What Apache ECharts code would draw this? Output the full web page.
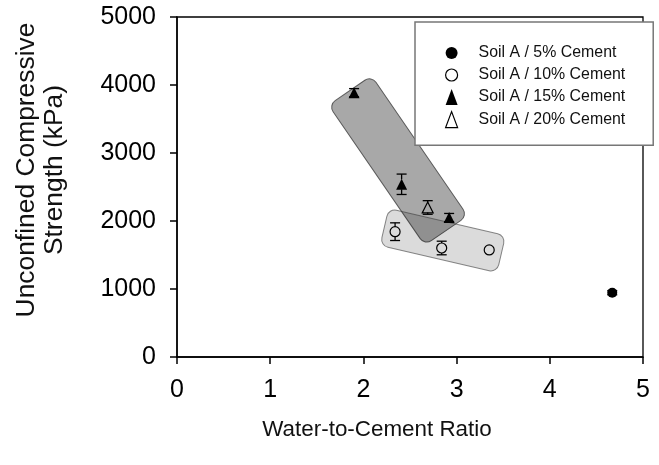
<!DOCTYPE html>
<html>
<head>
<meta charset="utf-8">
<script src="https://cdn.jsdelivr.net/npm/echarts@6/dist/echarts.min.js"></script>
<style>html,body{margin:0;padding:0;background:#fff}#c{width:659px;height:465px}</style>
</head>
<body>
<div id="c"></div>
<script>
// ---- data ----
const xTicks = [0, 1, 2, 3, 4, 5];
const yTicks = [0, 1000, 2000, 3000, 4000, 5000];
const seriesNames = ['Soil A / 5% Cement', 'Soil A / 10% Cement', 'Soil A / 15% Cement', 'Soil A / 20% Cement'];
// [w/c ratio, UCS kPa, error kPa]
const cement5 = [[4.67, 945, 30]];
const cement10 = [[2.34, 1843, 130], [2.84, 1603, 100], [3.35, 1574, 0]];
const cement15 = [[1.90, 3887, 60], [2.41, 2540, 150], [2.92, 2051, 60]];
const cement20 = [[2.69, 2199, 100]];
// shaded regions: three corners (c0, c1 adjacent, c3 adjacent) in data units
const darkRegion = [1.627, 3704, 2.087, 4137, 2.657, 1643];
const lightRegion = [2.271, 2184, 3.525, 1787, 2.179, 1640];

const FONT = 'Arial, "Liberation Sans", sans-serif';
const chart = echarts.init(document.getElementById('c'), null, {renderer: 'canvas'});

function regionItem(params, api) {
  const p0 = api.coord([api.value(0), api.value(1)]);
  const p1 = api.coord([api.value(2), api.value(3)]);
  const p3 = api.coord([api.value(4), api.value(5)]);
  const ax = p1[0] - p0[0], ay = p1[1] - p0[1];
  const bx = p3[0] - p0[0], by = p3[1] - p0[1];
  const la = Math.hypot(ax, ay), lb = Math.hypot(bx, by);
  const cx = p0[0] + (ax + bx) / 2, cy = p0[1] + (ay + by) / 2;
  const th = Math.atan2(ay, ax);
  return {
    type: 'rect',
    x: cx, y: cy, rotation: -th,
    shape: {x: -la / 2, y: -lb / 2, width: la, height: lb, r: 8},
    style: api.style()
  };
}

function errItem(params, api) {
  const x = api.value(0), y = api.value(1), e = api.value(2);
  const children = [];
  if (e > 0) {
    const p = api.coord([x, y]);
    const t = api.coord([x, y + e]);
    const b = api.coord([x, y - e]);
    const cw = 5, gap = 5;
    const st = {stroke: '#000', lineWidth: 1.3};
    children.push({type: 'line', shape: {x1: t[0] - cw, y1: t[1], x2: t[0] + cw, y2: t[1]}, style: st});
    children.push({type: 'line', shape: {x1: b[0] - cw, y1: b[1], x2: b[0] + cw, y2: b[1]}, style: st});
    if (p[1] - t[1] > gap) children.push({type: 'line', shape: {x1: p[0], y1: t[1], x2: p[0], y2: p[1] - gap}, style: st});
    if (b[1] - p[1] > gap) children.push({type: 'line', shape: {x1: p[0], y1: p[1] + gap, x2: p[0], y2: b[1]}, style: st});
  }
  return {type: 'group', children};
}

const allErr = cement5.concat(cement10, cement15, cement20);
const pts = a => a.map(d => [d[0], d[1]]);

chart.setOption({
  animation: false,
  backgroundColor: '#fff',
  grid: {left: 177, right: 16, top: 17, bottom: 108, show: true, borderColor: '#000', borderWidth: 1.3, containLabel: false},
  xAxis: {
    type: 'value', min: 0, max: 5, interval: 1,
    axisLine: {show: true, lineStyle: {color: '#000', width: 1.5}},
    axisTick: {show: true, length: 7, lineStyle: {color: '#000', width: 1.5}},
    splitLine: {show: false},
    axisLabel: {color: '#000', fontFamily: FONT, fontSize: 25, margin: 21, formatter: v => String(v)}
  },
  yAxis: {
    type: 'value', min: 0, max: 5000, interval: 1000,
    axisLine: {show: true, lineStyle: {color: '#000', width: 1.5}},
    axisTick: {show: true, length: 7, lineStyle: {color: '#000', width: 1.5}},
    splitLine: {show: false},
    axisLabel: {color: '#000', fontFamily: FONT, fontSize: 25, margin: 21, formatter: v => String(v)}
  },
  legend: {
    orient: 'vertical', left: 415, top: 22,
    width: 230,
    backgroundColor: '#fff', borderColor: '#777', borderWidth: 1.5, borderRadius: 0,
    padding: [23, 28, 17, 30],
    itemGap: 6, itemWidth: 12, itemHeight: 16,
    textStyle: {color: '#111', fontFamily: FONT, fontSize: 15.9, padding: [0, 0, 0, 16]},
    data: [
      {name: seriesNames[0], icon: 'circle', itemStyle: {color: '#000', borderWidth: 0}},
      {name: seriesNames[1], icon: 'circle', itemStyle: {color: 'rgba(0,0,0,0)', borderColor: '#000', borderWidth: 1.2}},
      {name: seriesNames[2], icon: 'triangle', itemStyle: {color: '#000', borderWidth: 0}},
      {name: seriesNames[3], icon: 'triangle', itemStyle: {color: 'rgba(0,0,0,0)', borderColor: '#000', borderWidth: 1.2}}
    ]
  },
  graphic: [
    {type: 'text', x: 41, y: 170, rotation: Math.PI / 2, z: 10,
     style: {text: 'Unconfined Compressive\nStrength (kPa)', fill: '#111', font: '26.4px ' + FONT, align: 'center', verticalAlign: 'middle', lineHeight: 28}},
    {type: 'text', x: 377, y: 430, z: 10,
     style: {text: 'Water-to-Cement Ratio', fill: '#111', font: '22.4px ' + FONT, align: 'center', verticalAlign: 'middle'}}
  ],
  series: [
    {type: 'custom', name: 'darkRegion', z: 1, silent: true,
     renderItem: regionItem, data: [darkRegion], encode: {x: [0, 2, 4], y: [1, 3, 5]},
     itemStyle: {color: 'rgba(0,0,0,0.34)', borderColor: 'rgba(60,60,60,0.8)', borderWidth: 1}},
    {type: 'custom', name: 'lightRegion', z: 1, silent: true,
     renderItem: regionItem, data: [lightRegion], encode: {x: [0, 2, 4], y: [1, 3, 5]},
     itemStyle: {color: 'rgba(0,0,0,0.14)', borderColor: 'rgba(60,60,60,0.6)', borderWidth: 1}},
    {type: 'custom', name: 'errors', z: 3, silent: true,
     renderItem: errItem, data: allErr, encode: {x: 0, y: 1}},
    {type: 'scatter', name: seriesNames[0], z: 5, symbol: 'circle', symbolSize: 10,
     itemStyle: {color: '#000', opacity: 1}, data: pts(cement5)},
    {type: 'scatter', name: seriesNames[1], z: 5, symbol: 'circle', symbolSize: 10,
     itemStyle: {color: 'rgba(0,0,0,0)', borderColor: '#000', borderWidth: 1.2, opacity: 1}, data: pts(cement10)},
    {type: 'scatter', name: seriesNames[2], z: 5, symbol: 'triangle', symbolSize: 11,
     itemStyle: {color: '#000', opacity: 1}, data: pts(cement15)},
    {type: 'scatter', name: seriesNames[3], z: 5, symbol: 'triangle', symbolSize: 11,
     itemStyle: {color: 'rgba(0,0,0,0)', borderColor: '#000', borderWidth: 1.2, opacity: 1}, data: pts(cement20)}
  ]
});
</script>
</body>
</html>
